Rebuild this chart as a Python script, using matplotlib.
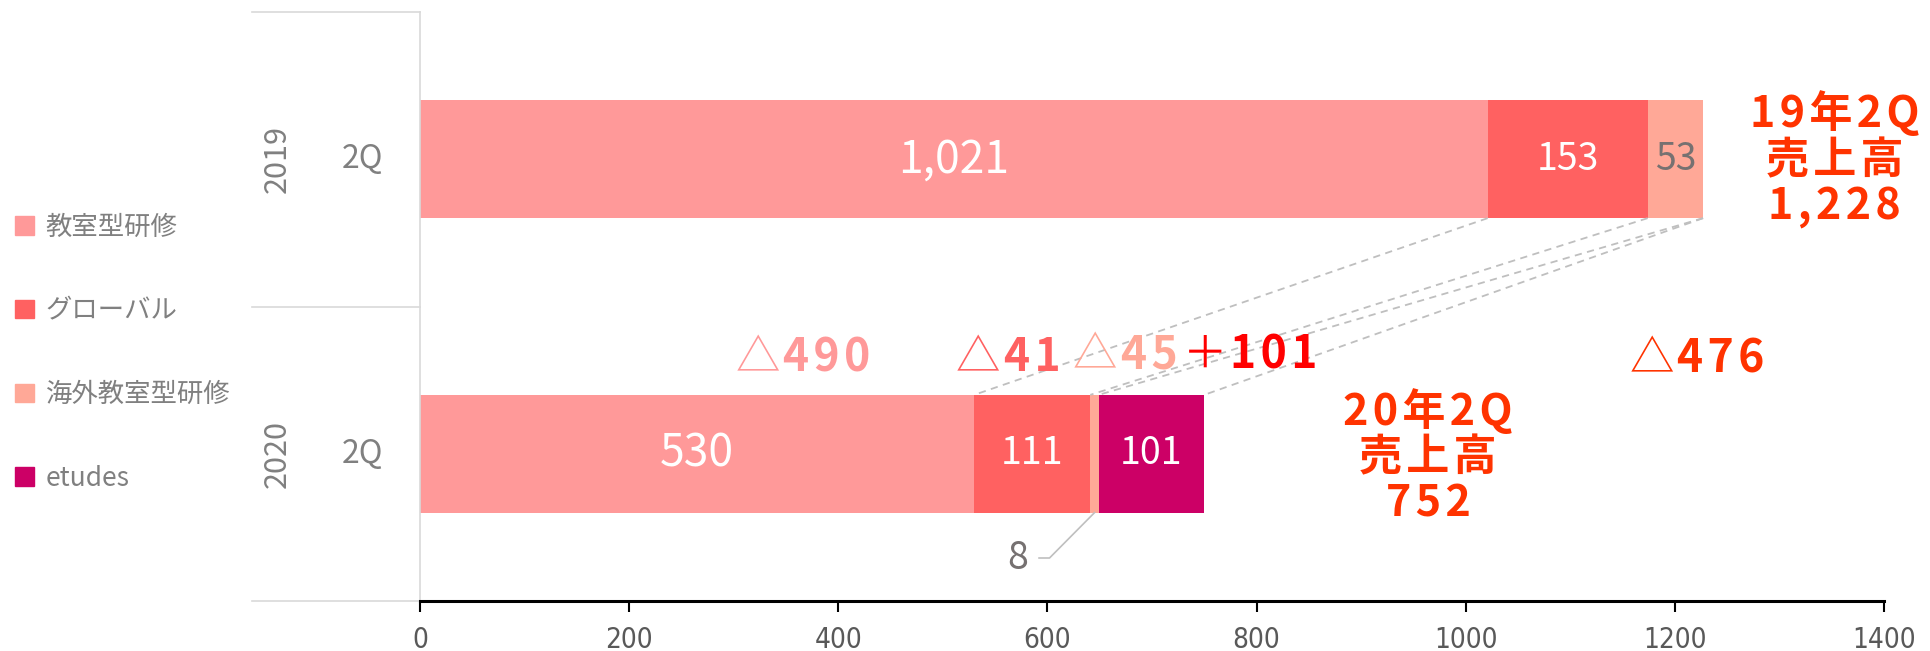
import numpy as np
import matplotlib
matplotlib.use("Agg")
import matplotlib.pyplot as plt
from matplotlib.patches import Patch
from matplotlib.transforms import blended_transform_factory

plt.rcParams['font.family'] = ['Noto Sans CJK JP', 'DejaVu Sans']

# 売上データ（百万円）
years = ['2019', '2020']
quarter = '2Q'
series = ['教室型研修', 'グローバル', '海外教室型研修', 'etudes']
colors = ['#FF9999', '#FF6161', '#FFA897', '#CC0066']
vals_2019 = [1021, 153, 53, 0]
vals_2020 = [530, 111, 8, 101]
sales_2019 = 1228
sales_2020 = 752

# 前年比の増減
diff_marks = ['△', '△', '△', '＋', '△']
diff_nums = ['490', '41', '45', '101', '476']
diff_colors = ['#FF9999', '#FF6161', '#FFA897', '#FF0000', '#FF3300']
diff_split_x = [344, 555, 667, 772, 1199]
diff_y = [0.325, 0.325, 0.335, 0.335, 0.32]

GRAY = '#808080'
SALES_COLOR = '#FF3300'
BAR_H = 0.4


def spaced(s):
    return '\u200a'.join(s)


fig = plt.figure(figsize=(19.31, 6.51), dpi=100)
ax = fig.add_axes([420 / 1931, 50 / 651, 1464 / 1931, 589 / 651])

ypos = {'2019': 1, '2020': 0}
data = {'2019': vals_2019, '2020': vals_2020}
cums = {}
handles = []
for y in years:
    left = 0
    edges = []
    for i, v in enumerate(data[y]):
        ax.barh(ypos[y], v, left=left, height=BAR_H, color=colors[i], linewidth=0)
        if y == '2019':
            handles.append(Patch(color=colors[i], label=series[i]))
        cx = left + v / 2
        if v > 0:
            if i == 0:
                ax.text(cx, ypos[y], f"{v:,}", color='white', fontsize=32,
                        ha='center', va='center')
            elif i == 2 and v >= 20:
                ax.text(cx, ypos[y], f"{v:,}", color='#767171', fontsize=27,
                        ha='center', va='center')
            elif i == 2:
                # 細いバーは外側に引き出し線で表示
                lx, ly = cx - 73, -0.354
                ax.text(lx, ly, f"{v}", color='#767171', fontsize=27,
                        ha='center', va='center')
                ax.plot([lx + 20, lx + 30, cx], [ly, ly, ypos[y] - BAR_H / 2],
                        color='#bfbfbf', lw=1.2)
            else:
                ax.text(cx, ypos[y], f"{v:,}", color='white', fontsize=27,
                        ha='center', va='center')
        left += v
        edges.append(left)
    cums[y] = edges

# 前年と今年のバーを結ぶ点線
for a, b in zip(cums['2019'], cums['2020']):
    ax.plot([a, b], [1 - BAR_H / 2, 0 + BAR_H / 2], color='#bfbfbf', lw=1.3,
            ls=(0, (4, 3)))

# 増減ラベル
for m, n, c, sx, sy in zip(diff_marks, diff_nums, diff_colors, diff_split_x, diff_y):
    ax.text(sx, sy, m, color=c, fontsize=32, ha='right', va='center')
    ax.text(sx + 3, sy, spaced(n), color=c, fontsize=32, fontweight='bold',
            ha='left', va='center')

# 売上高合計
ax.text(1353, 1, spaced('19年2Q') + '\n' + spaced('売上高') + '\n' + spaced(f"{sales_2019:,}"),
        color=SALES_COLOR, fontsize=31, fontweight='bold', ha='center', va='center',
        linespacing=1.05)
ax.text(964, -0.01, spaced('20年2Q') + '\n' + spaced('売上高') + '\n' + spaced(f"{sales_2020:,}"),
        color=SALES_COLOR, fontsize=31, fontweight='bold', ha='center', va='center',
        linespacing=1.05)

ax.set_xlim(0, 1400)
ax.set_ylim(-0.5, 1.5)
ax.set_xticks(np.arange(0, 1401, 200))
ax.set_yticks([])
for s in ['top', 'right']:
    ax.spines[s].set_visible(False)
ax.spines['left'].set_color('#d9d9d9')
ax.spines['left'].set_linewidth(1.2)
ax.spines['bottom'].set_color('black')
ax.spines['bottom'].set_linewidth(2.2)
ax.tick_params(axis='x', direction='out', length=8, width=1.5, color='black',
               pad=10, labelsize=20, labelcolor='#595959')
for lbl in ax.get_xticklabels():
    lbl.set_family('DejaVu Sans')
    lbl.set_stretch('condensed')

# 左側のカテゴリ区切り線とラベル
trans = blended_transform_factory(ax.transAxes, ax.transData)
for yl in [1.5, 0.5, -0.5]:
    ax.plot([-0.1148, 0], [yl, yl], color='#d9d9d9', lw=1.2, transform=trans,
            clip_on=False)
for y in years:
    ax.text(-0.039, ypos[y], quarter, color=GRAY, fontsize=23, ha='center',
            va='center', transform=trans)
    ax.text(-0.0977, ypos[y], y, color=GRAY, fontsize=22, ha='center',
            va='center', rotation=90, transform=trans)

fig.legend(handles=handles, loc='center left', bbox_to_anchor=(0.008, 0.458),
           frameon=False, fontsize=19, labelcolor=GRAY, labelspacing=2.15,
           handlelength=0.7, handleheight=0.7, handletextpad=0.45,
           borderpad=0, borderaxespad=0)

fig.savefig('out.png', dpi=100)
